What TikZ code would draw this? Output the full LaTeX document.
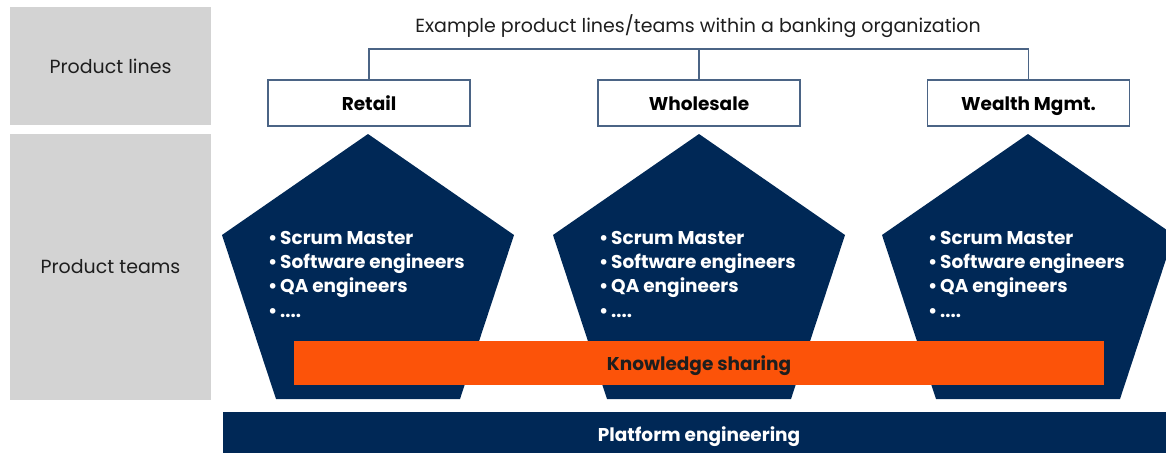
\documentclass[tikz,border=0pt]{standalone}
\usepackage{fontspec}
\setmainfont{Poppins}
\definecolor{navy}{HTML}{002856}
\definecolor{orangebar}{HTML}{FC5309}
\definecolor{panelgray}{HTML}{D3D3D3}
\definecolor{linkblue}{HTML}{4B6485}
\definecolor{inktext}{HTML}{1E1E1E}
\begin{document}
\begin{tikzpicture}[x=1pt,y=-1pt,
  rowlabel/.style={fill=panelgray, minimum width=201pt, inner sep=0pt,
    text=inktext, font=\fontsize{19}{22}\selectfont},
  linebox/.style={draw=linkblue, line width=1.3pt, fill=white,
    minimum width=202pt, minimum height=46pt, inner sep=0pt,
    text height=19pt, text depth=4pt,
    text=black, font=\bfseries\fontsize{18.5}{22}\selectfont},
  teamlist/.style={text=white, font=\bfseries\fontsize{18.5}{24.3}\selectfont,
    align=left, anchor=north west, inner sep=0pt},
  barlabel/.style={inner sep=0pt, text height=13pt, text depth=4pt,
    font=\bfseries\fontsize{18.5}{22}\selectfont},
  link/.style={draw=linkblue, line width=1.3pt}
]
\useasboundingbox (0,0) rectangle (1166,453);

% row labels on the left
\node[rowlabel, minimum height=118pt] (lines) at (110.5,66) {Product lines};
\node[rowlabel, minimum height=266pt] (teams) at (110.5,267) {Product teams};

% title and product line boxes
\node[text=inktext, font=\fontsize{19}{22}\selectfont, inner sep=0pt,
  text height=13pt, text depth=4pt] (title) at (698,28)
  {Example product lines/teams within a banking organization};
\node[linebox] (retail) at (369,103) {Retail};
\node[linebox] (wholesale) at (699,103) {Wholesale};
\node[linebox] (wealth) at (1028.5,103) {Wealth Mgmt.};

\coordinate (bus) at (699,49);
\draw[link] (retail.north) -- (retail.north |- bus) -- (wealth.north |- bus) -- (wealth.north);
\draw[link] (wholesale.north) -- (wholesale.north |- bus);

% team pentagons
\foreach \c/\n in {368/tA,699/tB,1028/tC}{
  \fill[navy] (\c,134) -- (\c+146,235) -- (\c+92,399) -- (\c-92,399) -- (\c-146,235) -- cycle;
  \node[teamlist] (\n) at (\c-100,231)
    {\makebox[12pt][l]{•}Scrum Master\\
     \makebox[12pt][l]{•}Software engineers\\
     \makebox[12pt][l]{•}QA engineers\\
     \makebox[12pt][l]{•}....};
}

% knowledge sharing bar
\node[fill=orangebar, minimum width=810pt, minimum height=44pt, inner sep=0pt] (share) at (699,363) {};
\node[barlabel, text=inktext] (sharetext) at (699,366) {Knowledge sharing};

% platform bar
\node[fill=navy, minimum width=943pt, minimum height=41pt, inner sep=0pt] (platform) at (694.5,432.5) {};
\node[barlabel, text=white] (platformtext) at (699,437) {Platform engineering};
\end{tikzpicture}
\end{document}
